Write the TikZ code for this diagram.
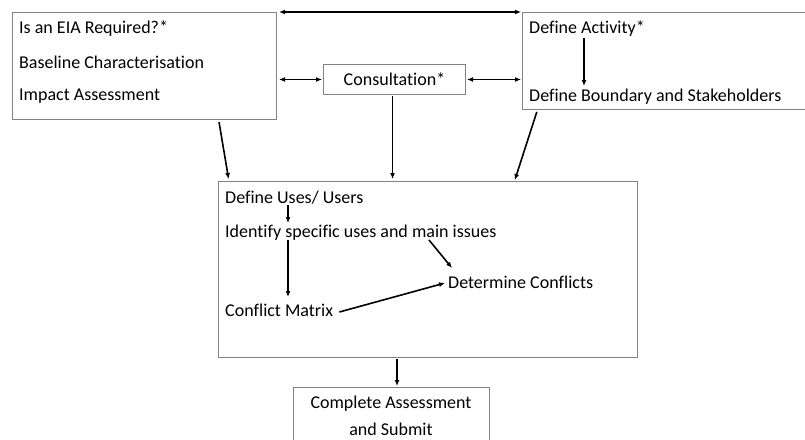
\documentclass[tikz,border=0pt]{standalone}
\usepackage{fontspec}
\setmainfont{Carlito}[Ligatures={NoCommon}]
\usetikzlibrary{calc,arrows.meta}
\definecolor{boxgray}{RGB}{130,130,130}
\begin{document}
\begin{tikzpicture}[x=1pt,y=-1pt,
  box/.style={draw=boxgray, line width=1pt, anchor=north west, inner sep=0pt},
  txt/.style={anchor=base west, inner sep=0pt, font=\fontsize{18}{20}\selectfont},
  ctxt/.style={anchor=base, inner sep=0pt, font=\fontsize{18}{20}\selectfont},
  arr/.style={-{Latex[length=6pt,width=5pt]}, line width=1.6pt},
  darr/.style={{Latex[length=6pt,width=5pt]}-{Latex[length=6pt,width=5pt]}, line width=1.6pt}]
\useasboundingbox (0,0) rectangle (805,439);
% boxes
\node[box, minimum width=264pt, minimum height=107pt] (L) at (12,12) {};
\node[box, minimum width=142pt, minimum height=30pt] (C) at (323,64) {};
\node[box, minimum width=290pt, minimum height=97pt] (R) at (522,12) {};
\node[box, minimum width=419pt, minimum height=176pt] (M) at (218,181) {};
\node[box, minimum width=196pt, minimum height=70pt] (B) at (293,387) {};
% texts
\node[txt] (t1) at (19,33) {Is an EIA Required?*};
\node[txt] (t2) at (19,68) {Baseline Characterisation};
\node[txt] (t3) at (19,100) {Impact Assessment};
\node[ctxt] (ct) at ($(C.center)+(0,6)$) {Consultation*};
\node[txt] (a1) at (529,33) {Define Activity*};
\node[txt] (a2) at (529,101) {Define Boundary and Stakeholders};
\node[txt] (u1) at (225,203) {Define Uses/ Users};
\node[txt] (u2) at (225,237) {Identify specific uses and main issues};
\node[txt] (u3) at (448,288) {Determine Conflicts};
\node[txt] (u4) at (225,316) {Conflict Matrix};
\node[ctxt] (b1) at (391,408) {Complete Assessment};
\node[ctxt] (b2) at (391,435) {and Submit};
% connector end points
\coordinate (ms) at ($(M.south west)+(179,0)$);
\coordinate (ca) at ([xshift=-2pt]C.south);
% connectors between boxes
\draw[darr] ([xshift=2pt]L.north east) -- ([xshift=-1pt]R.north west);
\draw[darr, shorten <=2pt, shorten >=1pt] (L.east |- C.west) -- (C.west);
\draw[darr, shorten <=1pt, shorten >=1pt] (C.east) -- (R.west |- C.east);
\draw[arr, shorten <=2pt, shorten >=2pt] ($(L.south west)!0.78!(L.south east)$) -- ($(M.north west)!0.026!(M.north east)$);
\draw[arr, shorten <=1pt, shorten >=2pt] (ca) -- (ca |- M.north);
\draw[arr, shorten <=2pt, shorten >=1pt] ($(R.south west)!0.053!(R.south east)$) -- ($(M.north west)!0.706!(M.north east)$);
\draw[arr, shorten <=1pt, shorten >=1pt] (ms) -- (ms |- B.north);
% connectors inside boxes
\draw[arr] ($(a1.base west)+(55,5)$) -- ($(a2.base west)+(55,-15)$);
\draw[arr] ($(u1.base west)+(63,2)$) -- ($(u2.base west)+(63,-14)$);
\draw[arr] ($(u2.base west)+(63,3)$) -- ($(u4.base west)+(63,-19)$);
\draw[arr] ($(u2.base west)+(204,3)$) -- ($(u3.base west)+(4,-20)$);
\draw[arr] ($(u4.base east)+(6,-4)$) -- ($(u3.base west)+(-3,-5)$);
\end{tikzpicture}
\end{document}
